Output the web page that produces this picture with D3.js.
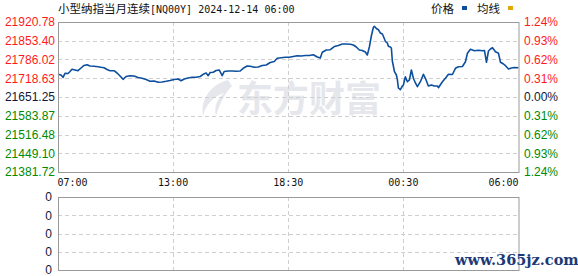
<!DOCTYPE html>
<html><head><meta charset="utf-8">
<script src="https://cdn.jsdelivr.net/npm/d3@7"></script>
<style>html,body{margin:0;padding:0;background:#fff;}svg{display:block;}</style>
</head><body>
<svg id="c" width="578" height="276"></svg>
<script>
// ---- data ----
const titleName = "小型纳指当月连续";
const titleCode = "[NQ00Y] 2024-12-14 06:00";
const prevClose = 21651.25;
const priceTicks = [21920.78, 21853.40, 21786.02, 21718.63, 21651.25, 21583.87, 21516.48, 21449.10, 21381.72];
const pctTicks = ["1.24", "0.93", "0.62", "0.31", "0.00", "0.31", "0.62", "0.93", "1.24"];
const timeTickMinutes = [0, 345, 690, 1035, 1380];
const timeTickLabels = ["07:00", "13:00", "18:30", "00:30", "06:00"];
const volTicks = ["0", "0", "0", "0", "0"];
const minutes = [0,9,15,21,30,36,42,51,60,69,78,87,96,108,120,129,138,147,156,168,177,186,195,204,216,228,240,252,264,276,288,300,312,324,336,348,360,369,378,390,402,414,426,435,444,450,456,465,474,483,492,498,510,522,534,546,555,567,576,588,600,612,624,636,648,657,669,681,693,705,717,729,741,753,765,777,786,792,804,816,828,840,852,864,876,885,894,903,912,921,927,933,939,945,948,954,960,966,972,975,981,987,990,996,999,1002,1005,1008,1014,1017,1020,1026,1032,1035,1041,1047,1053,1059,1065,1071,1077,1086,1095,1101,1110,1119,1128,1137,1140,1152,1161,1170,1182,1191,1200,1212,1221,1227,1236,1248,1260,1272,1278,1284,1290,1296,1302,1311,1320,1326,1335,1341,1350,1359,1368,1380];
const prices = [21732.8,21730.3,21722.1,21736.4,21735.7,21742.9,21750.8,21748.3,21745.8,21755.5,21764.5,21767.3,21762.7,21761.6,21760.1,21758.0,21756.2,21750.1,21745.8,21745.8,21737.5,21726.7,21714.9,21724.9,21727.8,21726.7,21721.3,21718.5,21714.1,21707.7,21708.8,21704.1,21705.2,21707.7,21710.6,21714.1,21715.9,21709.8,21715.9,21719.5,21722.1,21722.1,21724.9,21732.8,21737.5,21727.8,21739.3,21740.0,21746.5,21748.3,21727.8,21742.9,21744.7,21744.7,21744.0,21744.7,21754.4,21762.7,21761.6,21758.0,21759.1,21764.5,21766.3,21775.2,21778.8,21790.3,21792.1,21793.9,21793.9,21796.8,21799.7,21798.6,21800.4,21800.4,21803.3,21795.0,21791.4,21811.9,21820.2,21821.2,21832.7,21836.3,21841.7,21841.7,21841.0,21838.1,21830.9,21820.2,21818.4,21813.0,21802.2,21830.9,21870.5,21901.0,21905.3,21897.4,21893.1,21881.3,21877.7,21869.4,21851.4,21845.3,21833.5,21830.9,21827.3,21779.6,21762.7,21743.6,21730.3,21713.4,21683.6,21677.5,21690.8,21694.4,21724.2,21706.2,21712.3,21748.3,21718.5,21701.6,21688.3,21706.2,21732.8,21718.5,21690.8,21694.4,21690.8,21690.8,21684.7,21706.2,21718.5,21732.8,21732.1,21754.4,21760.1,21760.9,21778.1,21808.3,21822.7,21817.6,21819.1,21817.3,21818.4,21776.0,21816.6,21823.7,21828.4,21814.0,21808.3,21776.0,21769.8,21763.7,21751.9,21755.5,21757.3,21756.6];

// ---- layout ----
const svg = d3.select("#c");
const L = 58, R = 518.5, T = 22, B = 172;
const VT = 197, VB = 270;
const fontLat = "'Liberation Sans', Arial, sans-serif";
const fontCJK = "'Noto Sans CJK SC', sans-serif";
const fontMono = "'DejaVu Sans Mono', 'Liberation Mono', monospace";
const red = "#ff1a1a", green = "#008a00", dark = "#101838";

const x = d3.scaleLinear().domain([0, 1380]).range([L, R]);
const y = d3.scaleLinear().domain([priceTicks[8], priceTicks[0]]).range([B, T]);
const yv = d3.scaleLinear().domain([0, volTicks.length - 1]).range([VT, VB]);

// watermark
const wm = svg.append("g").attr("fill", "#e6e7ec");
wm.append("path").attr("d", "M228,80 C212,84 200,98 203,116 C206,104 214,96 224,93 C216,100 214,108 216,116 C220,102 226,92 232,86 Z");
wm.append("text").attr("x", 237).attr("y", 112).attr("font-family", fontCJK).attr("font-weight", "bold")
  .attr("font-size", 36).attr("letter-spacing", 0).text("东方财富");

// grid main
const grid = svg.append("g").attr("stroke", "#cfcfcf").attr("stroke-dasharray", "4,3").attr("stroke-width", 1);
priceTicks.slice(1, -1).forEach(p => {
  grid.append("line").attr("x1", L).attr("x2", R).attr("y1", Math.round(y(p)) + 0.5).attr("y2", Math.round(y(p)) + 0.5);
});
timeTickMinutes.slice(1, -1).forEach(m => {
  grid.append("line").attr("y1", T).attr("y2", B).attr("x1", Math.round(x(m)) + 0.5).attr("x2", Math.round(x(m)) + 0.5);
  grid.append("line").attr("y1", VT).attr("y2", VB).attr("x1", Math.round(x(m)) + 0.5).attr("x2", Math.round(x(m)) + 0.5);
});
volTicks.slice(1, -1).forEach((v, i) => {
  grid.append("line").attr("x1", L).attr("x2", R).attr("y1", Math.round(yv(i + 1)) + 0.5).attr("y2", Math.round(yv(i + 1)) + 0.5);
});

// price line
const line = d3.line().x((d, i) => x(minutes[i])).y(d => y(d));
svg.append("path").datum(prices).attr("fill", "none").attr("stroke", "#0d4f9e")
  .attr("stroke-width", 1.6).attr("stroke-linejoin", "round").attr("d", line);

// frames
svg.append("rect").attr("x", L + 0.5).attr("y", T + 0.5).attr("width", R - L).attr("height", B - T)
  .attr("fill", "none").attr("stroke", "#9a9a9a");
svg.append("rect").attr("x", L + 0.5).attr("y", VT + 0.5).attr("width", R - L).attr("height", VB - VT)
  .attr("fill", "none").attr("stroke", "#9a9a9a");

// left price labels
priceTicks.forEach(p => {
  svg.append("text").attr("x", 55).attr("y", y(p)).attr("dy", "0.36em").attr("text-anchor", "end")
    .attr("font-family", fontLat).attr("font-size", 12)
    .attr("fill", p > prevClose ? red : (p < prevClose ? green : dark)).text(p.toFixed(2));
});
// right percent labels
pctTicks.forEach((t, i) => {
  const p = priceTicks[i];
  svg.append("text").attr("x", 524).attr("y", y(p)).attr("dy", "0.36em")
    .attr("font-family", fontLat).attr("font-size", 12)
    .attr("fill", p > prevClose ? red : (p < prevClose ? green : dark)).text(t + "%");
});
// time labels
timeTickMinutes.forEach((m, i) => {
  const anchor = i === 0 ? "start" : (i === timeTickMinutes.length - 1 ? "end" : "middle");
  svg.append("text").attr("x", x(m) + (i === 0 ? -0.5 : 0)).attr("y", 182.5).attr("dy", "0.36em").attr("text-anchor", anchor)
    .attr("font-family", fontMono).attr("font-size", 10).attr("fill", "#111").text(timeTickLabels[i]);
});
// volume labels
volTicks.forEach((v, i) => {
  svg.append("text").attr("x", 52).attr("y", yv(i)).attr("dy", "0.36em").attr("text-anchor", "end")
    .attr("font-family", fontLat).attr("font-size", 12).attr("fill", dark).text(v);
});

// title
const tt = svg.append("text").attr("x", 58).attr("y", 13).attr("fill", "#111");
tt.append("tspan").attr("font-family", fontCJK).attr("font-size", 11.5).text(titleName);
tt.append("tspan").attr("font-family", fontMono).attr("font-size", 10).text(titleCode);

// legend
const lg = svg.append("g").attr("font-family", fontCJK).attr("font-size", 11.5).attr("fill", "#111");
lg.append("text").attr("x", 431).attr("y", 13).text("价格");
lg.append("rect").attr("x", 462).attr("y", 6).attr("width", 5).attr("height", 4).attr("fill", "#0d4f9e");
lg.append("text").attr("x", 477).attr("y", 13).text("均线");
lg.append("rect").attr("x", 508).attr("y", 6).attr("width", 5).attr("height", 4).attr("fill", "#e0a800");

// site watermark
svg.append("text").attr("x", 455).attr("y", 265).attr("font-family", "'DejaVu Serif', serif").attr("font-weight", "bold")
  .attr("font-size", 14.5).attr("fill", "#1c3a78").text("www.365jz.com");
</script>
</body></html>
